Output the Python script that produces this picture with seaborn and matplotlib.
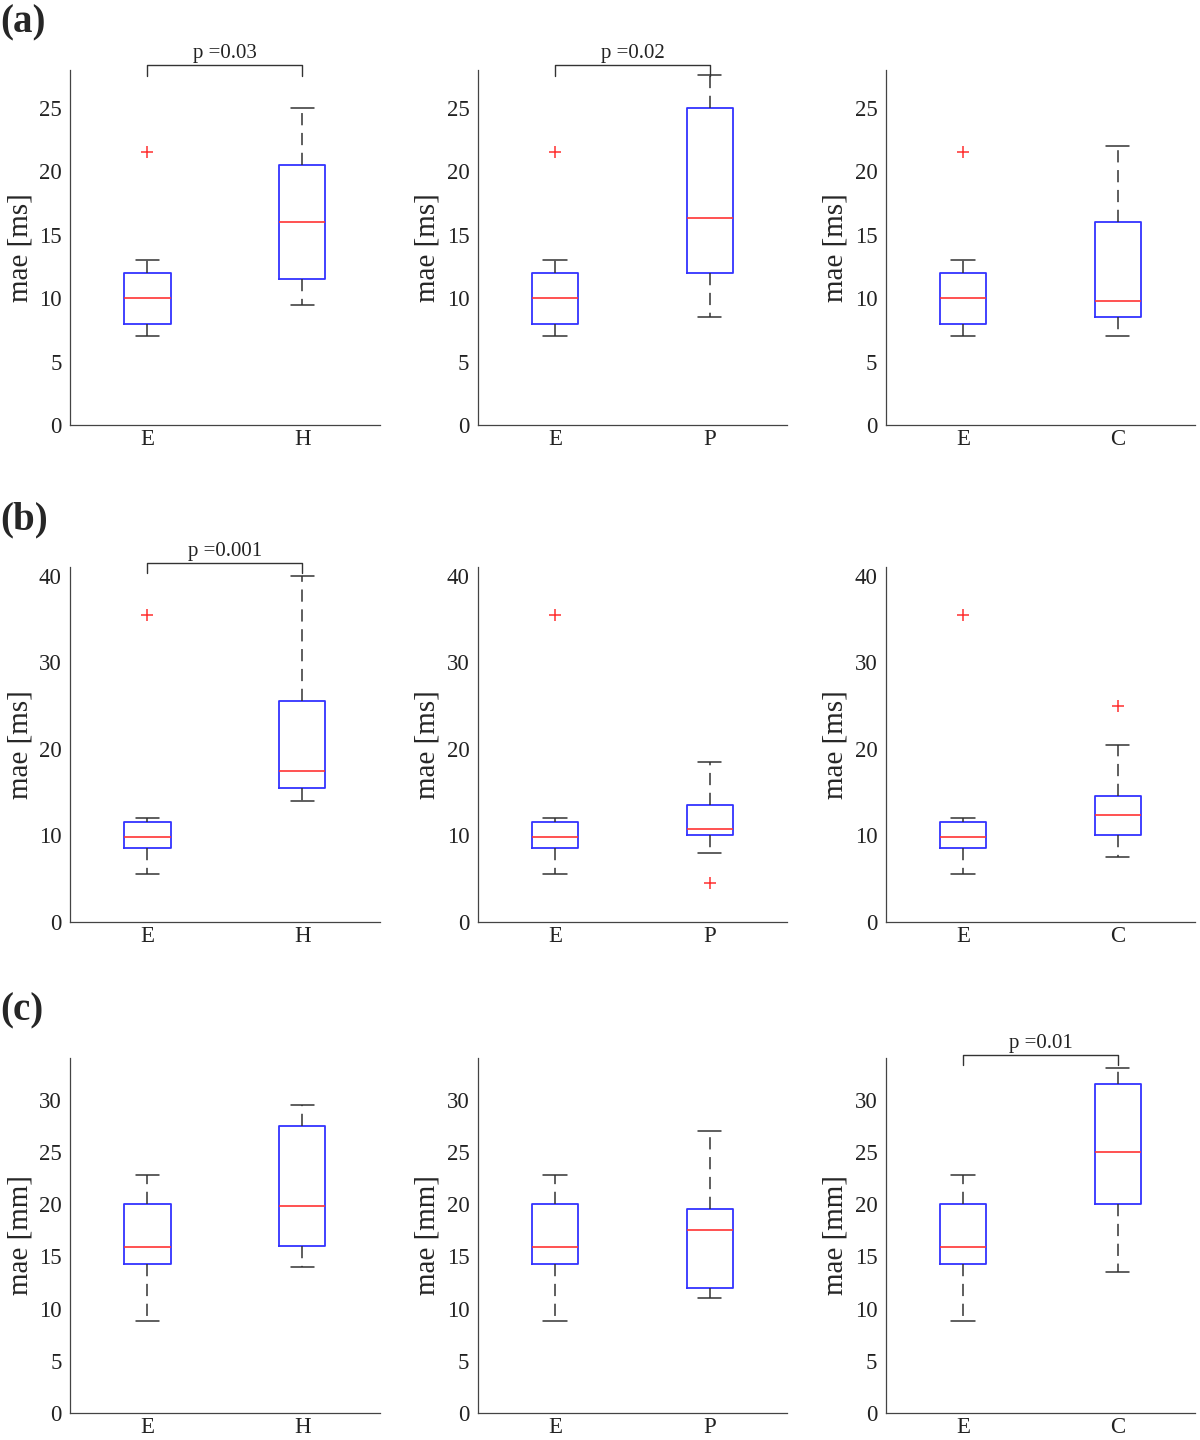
import numpy as np
import pandas as pd
import matplotlib
matplotlib.use("Agg")
import matplotlib.pyplot as plt
import seaborn as sns

# five-number summaries: [min, q1, median, q3, max]
# row (a) - mae [ms]
a_E = [7.0, 8.0, 10.0, 12.0, 13.0]
a_H = [9.5, 11.5, 16.0, 20.5, 25.0]
a_P = [8.5, 12.0, 16.3, 25.0, 27.6]
a_C = [7.0, 8.5, 9.8, 16.0, 22.0]
a_E_out = [21.5]

# row (b) - mae [ms]
b_E = [5.5, 8.5, 9.8, 11.5, 12.0]
b_H = [14.0, 15.5, 17.5, 25.5, 40.0]
b_P = [8.0, 10.0, 10.7, 13.5, 18.5]
b_C = [7.5, 10.0, 12.4, 14.5, 20.5]
b_E_out = [35.5]
b_P_out = [4.5]
b_C_out = [25.0]

# row (c) - mae [mm]
c_E = [8.8, 14.3, 15.9, 20.0, 22.8]
c_H = [14.0, 16.0, 19.8, 27.5, 29.5]
c_P = [11.0, 12.0, 17.5, 19.5, 27.0]
c_C = [13.5, 20.0, 25.0, 31.5, 33.0]

row_labels = ["(a)", "(b)", "(c)"]
y_labels = ["mae [ms]", "mae [ms]", "mae [mm]"]
y_limits = [(0, 28), (0, 41), (0, 34)]
y_ticks = [[0, 5, 10, 15, 20, 25], [0, 10, 20, 30, 40], [0, 5, 10, 15, 20, 25, 30]]

# each panel: (reference, other, other name, outliers E, outliers other, p text, bracket y)
panels = [
    [(a_E, a_H, "H", a_E_out, [], "p =0.03", 28.4),
     (a_E, a_P, "P", a_E_out, [], "p =0.02", 28.4),
     (a_E, a_C, "C", a_E_out, [], None, None)],
    [(b_E, b_H, "H", b_E_out, [], "p =0.001", 41.5),
     (b_E, b_P, "P", b_E_out, b_P_out, None, None),
     (b_E, b_C, "C", b_E_out, b_C_out, None, None)],
    [(c_E, c_H, "H", [], [], None, None),
     (c_E, c_P, "P", [], [], None, None),
     (c_E, c_C, "C", [], [], "p =0.01", 34.3)],
]

sns.set_style("white")
plt.rcParams["font.family"] = ["Liberation Serif", "DejaVu Serif"]

fig = plt.figure(figsize=(12, 14.4), dpi=100)

col_left = [0.0583, 0.398, 0.738]
row_bottom = [0.7049, 0.3597, 0.0188]
ax_w, ax_h = 0.258, 0.2465
spine_col = "#444444"

for r in range(3):
    for c in range(3):
        E, other, name, out_e, out_o, ptxt, py = panels[r][c]
        ax = fig.add_axes([col_left[c], row_bottom[r], ax_w, ax_h])
        order = ["E", name]
        df = pd.DataFrame({"group": ["E"] * len(E) + [name] * len(other),
                           "value": E + other})
        sns.boxplot(data=df, x="group", y="value", order=order, ax=ax,
                    whis=(0, 100), width=0.3, fill=False, linewidth=1.3,
                    boxprops=dict(color="#3333ff"),
                    medianprops=dict(color="#ff3333", linewidth=1.2),
                    whiskerprops=dict(color="#333333", linestyle=(0, (8, 5)), linewidth=1.1),
                    capprops=dict(color="#333333", linewidth=1.1),
                    showfliers=False)
        out_df = pd.DataFrame({"group": ["E"] * len(out_e) + [name] * len(out_o),
                               "value": out_e + out_o})
        if len(out_df):
            sns.stripplot(data=out_df, x="group", y="value", order=order, ax=ax,
                          jitter=False, marker="+", color="#ff3030", size=8,
                          linewidth=1.1)
        ax.set_xlim(-0.5, 1.5)
        ax.set_ylim(*y_limits[r])
        ax.set_yticks(y_ticks[r])
        ax.set_xlabel("")
        ax.set_ylabel(y_labels[r], fontsize=21, labelpad=4)
        ax.tick_params(direction="in", length=5, width=0.8, colors=spine_col,
                       labelsize=16.5, labelcolor="#222222", pad=6)
        ax.tick_params(axis="x", pad=3)
        for s in ["top", "right"]:
            ax.spines[s].set_visible(False)
        for s in ["left", "bottom"]:
            ax.spines[s].set_color(spine_col)
            ax.spines[s].set_linewidth(0.9)
        if ptxt is not None:
            drop = (y_limits[r][1]) * 0.03
            ax.plot([0, 0, 1, 1], [py - drop, py, py, py - drop], color="#333333",
                    linewidth=1.0, clip_on=False)
            ax.text(0.5, py + y_limits[r][1] * 0.005, ptxt, ha="center", va="bottom",
                    fontsize=15, color="#222222", clip_on=False)
    fig.text(0.0, row_bottom[r] + ax_h + 0.02, row_labels[r], fontsize=28,
             fontweight="bold", ha="left", va="bottom")

fig.savefig("out.png", dpi=100, facecolor="white")
